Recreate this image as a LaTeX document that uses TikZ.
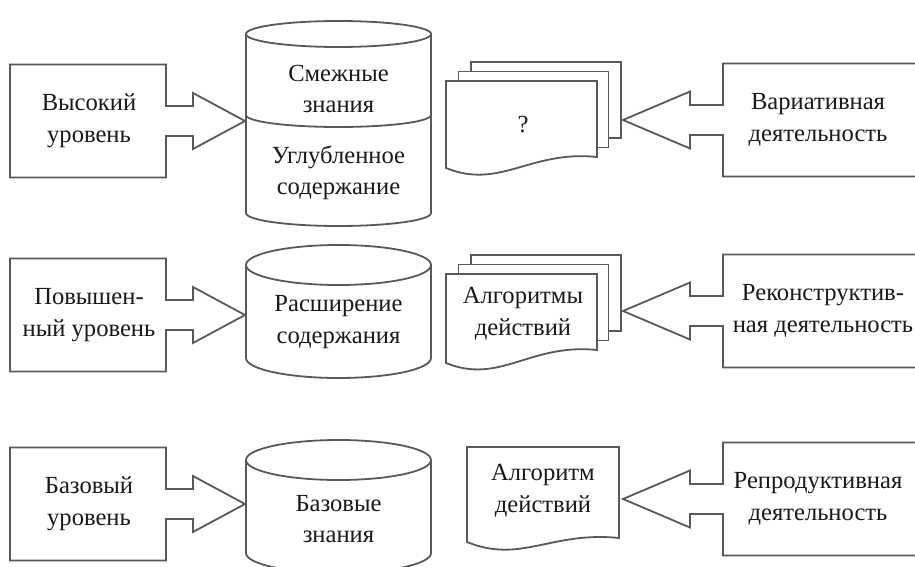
\documentclass[tikz,border=0pt]{standalone}
\usepackage{fontspec}
\setmainfont{Liberation Serif}
\usetikzlibrary{positioning}

\begin{document}
\begin{tikzpicture}[
    x=0.5pt, y=-0.5pt,
    outl/.style={draw=black!65, line width=0.9pt, line join=miter},
    page/.style={outl, fill=white},
    txt/.style={align=center, text=black!90,
                font=\fontsize{12.3}{15.8}\selectfont}
  ]
  \useasboundingbox (0,0) rectangle (915,567);
  \clip (0,0) rectangle (915,567);

  % Levels (left boxes with arrows)
  \foreach \c/\txt [count=\i] in {121/{Высокий\\уровень},
                                  315/{Повышен-\\ный уровень},
                                  504/{Базовый\\уровень}} {
    \draw[outl] (10,\c-56.5) -- (166,\c-56.5) -- (166,\c-15) -- (193,\c-15)
      -- (193,\c-28) -- (245,\c) -- (193,\c+28) -- (193,\c+15)
      -- (166,\c+15) -- (166,\c+56.5) -- (10,\c+56.5) -- cycle;
    \node[txt] (lvl\i) at (89,\c) {\txt};
  }

  % Activities (right boxes with arrows)
  \foreach \c/\tx/\txt [count=\i] in {120/818/{Вариативная\\деятельность},
                                      311/823/{Реконструктив-\\ная деятельность},
                                      499/818/{Репродуктивная\\деятельность}} {
    \draw[outl] (920,\c-56.5) -- (723,\c-56.5) -- (723,\c-15) -- (690,\c-15)
      -- (690,\c-28.5) -- (623,\c) -- (690,\c+28.5) -- (690,\c+15)
      -- (723,\c+15) -- (723,\c+56.5) -- (920,\c+56.5);
    \node[txt] (act\i) at (\tx,\c) {\txt};
  }

  % Cylinder 1
  \draw[outl] (246,34) -- (246,213)
    arc[start angle=180, end angle=0, x radius=92.5, y radius=13] -- (431,34);
  \draw[outl] (338.5,34) ellipse[x radius=92.5, y radius=13];
  \draw[outl] (246,115) arc[start angle=180, end angle=0, x radius=92.5, y radius=12];
  \node[txt] (know1) at (338.5,89) {Смежные\\знания};
  \node[txt] (know2) at (338.5,173) {Углубленное\\содержание};

  % Cylinder 2
  \draw[outl] (246,265) -- (246,358)
    arc[start angle=180, end angle=0, x radius=92.5, y radius=20] -- (431,265);
  \draw[outl] (338.5,265) ellipse[x radius=92.5, y radius=20];
  \node[txt] (know3) at (338.5,322) {Расширение\\содержания};

  % Cylinder 3
  \draw[outl] (246,460) -- (246,553)
    arc[start angle=180, end angle=0, x radius=92.5, y radius=20] -- (431,460);
  \draw[outl] (338.5,460) ellipse[x radius=92.5, y radius=20];
  \node[txt] (know4) at (338.5,519) {Базовые\\знания};

  % Documents 1
  \draw[page] (471,62) rectangle (621,138);
  \draw[page] (458.5,71.5) rectangle (608.5,147.5);
  \draw[page] (446,81) -- (597,81) -- (597,157)
    .. controls (530,150) and (500,190) .. (446,168) -- cycle;
  \node[txt] (doc1) at (523,125) {?};

  % Documents 2
  \draw[page] (471,255) rectangle (621,331);
  \draw[page] (458.5,264.5) rectangle (608.5,340.5);
  \draw[page] (446,274) -- (597,274) -- (597,350)
    .. controls (530,343) and (500,385) .. (446,363) -- cycle;
  \node[txt] (doc2) at (523,314) {Алгоритмы\\действий};

  % Document 3
  \draw[page] (467,447) -- (619,447) -- (619,538)
    .. controls (551,531) and (521,564) .. (467,542) -- cycle;
  \node[txt] (doc3) at (543,491) {Алгоритм\\действий};
\end{tikzpicture}
\end{document}
